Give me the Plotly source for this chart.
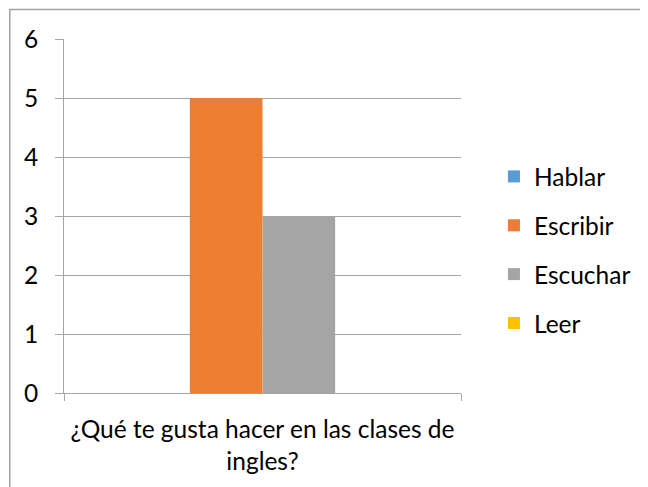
import plotly.graph_objects as go

categories = ['¿Qué te gusta hacer en las clases de<br>ingles?']
series_names = ['Hablar', 'Escribir', 'Escuchar', 'Leer']
series_values = [0, 5, 3, 0]
series_colors = ['#5B9BD5', '#ED7D31', '#A5A5A5', '#FFC000']

grid_color = '#a6a6a6'
font_family = 'Lato, Open Sans, sans-serif'

fig = go.Figure()
for name, val, col in zip(series_names, series_values, series_colors):
    fig.add_trace(go.Bar(
        x=categories,
        y=[val],
        name=name,
        legendgroup=name,
        marker=dict(color=col, line=dict(width=0)),
    ))

# page body has an 8px margin, so the figure is made 8px smaller
# plot area in window: x 64..463, y 39..393 (px)
fig.update_layout(
    width=640,
    height=479,
    margin=dict(l=56, r=185, t=31, b=94),
    plot_bgcolor='white',
    paper_bgcolor='white',
    font=dict(family=font_family, size=24.5, color='black'),
    barmode='group',
    bargap=0.268,
    bargroupgap=0,
    legend=dict(
        x=1.083, y=0.404, xanchor='left', yanchor='middle',
        traceorder='grouped', tracegroupgap=14,
        font=dict(size=24.5),
        itemwidth=30,
    ),
    xaxis=dict(
        automargin=False,
        showline=True,
        linecolor=grid_color,
        linewidth=1,
        ticks='outside',
        tickson='boundaries',
        ticklen=7,
        tickcolor=grid_color,
        ticklabelstandoff=15,
        showgrid=False,
        range=[-0.5, 0.5],
    ),
    yaxis=dict(
        automargin=False,
        range=[0, 6],
        dtick=1,
        showgrid=True,
        gridcolor=grid_color,
        gridwidth=1,
        showline=True,
        linecolor=grid_color,
        linewidth=1,
        ticks='outside',
        ticklen=8,
        tickcolor=grid_color,
        ticklabelstandoff=12,
        zeroline=False,
    ),
)

# outer chart border (left and top visible, right/bottom cropped)
fig.add_shape(
    type='rect', xref='paper', yref='paper',
    x0=(9.5 - 64) / 399, x1=1.5,
    y0=-0.5, y1=(393 - 9.5) / 354,
    line=dict(color='#a0a0a0', width=1.5),
    layer='below',
)

fig.write_html('out.html')
